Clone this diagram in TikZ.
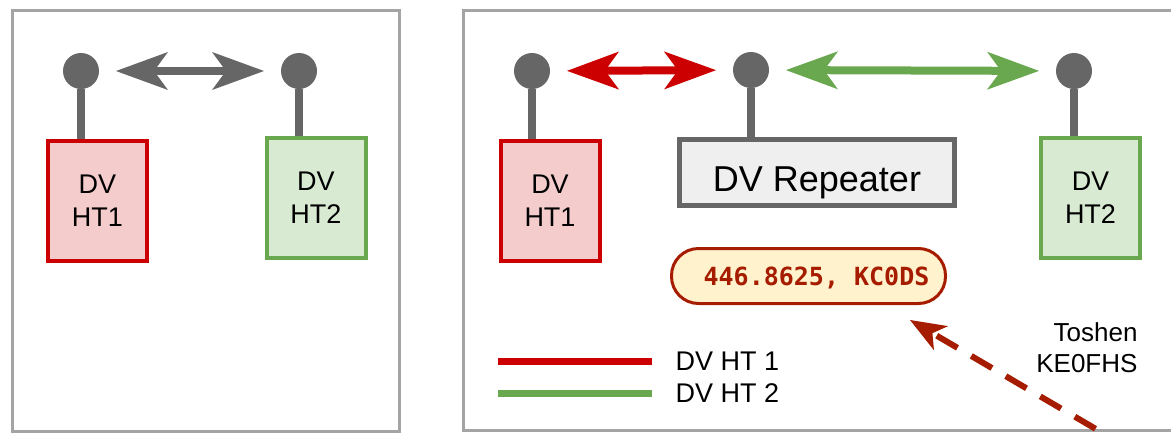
\documentclass[tikz,border=0pt]{standalone}
\usepackage{fontspec}
\setmainfont{Liberation Sans}
\setmonofont{DejaVu Sans Mono}
\usepackage{tikz}
\usetikzlibrary{positioning,
                arrows.meta}                % arrow tips

\definecolor{htred}{HTML}{CC0000}
\definecolor{htpink}{HTML}{F4CCCC}
\definecolor{htgreen}{HTML}{6AA84F}
\definecolor{htmint}{HTML}{D9EAD3}
\definecolor{antgray}{HTML}{666666}
\definecolor{rptfill}{HTML}{EFEFEF}
\definecolor{framegray}{HTML}{A4A4A4}
\definecolor{callred}{HTML}{A61C00}
\definecolor{callfill}{HTML}{FFF2CC}

\tikzset{
  panel/.style={draw=framegray, line width=3pt},
  ball/.style={circle, fill=antgray, minimum size=36pt, inner sep=0pt, outer sep=0pt},
  stem/.style={draw=antgray, line width=8pt},
  radio/.style={draw=#1, line width=4pt, minimum width=99pt, minimum height=120pt,
                inner sep=0pt, align=center, font=\fontsize{27}{33}\selectfont},
  link/.style={draw=#1, line width=8pt, shorten <=17pt, shorten >=17pt,
               >={Stealth[length=52pt, width=38pt, inset=14pt, line width=0pt]}, <->},
  legtext/.style={anchor=west, font=\fontsize{27}{32}\selectfont},
  legline/.style={draw=#1, line width=7pt},
  pointer/.style={draw=callred, line width=6pt, dash pattern=on 24pt off 16pt,
                  -{Stealth[length=36pt, width=28pt, inset=10pt, line width=0pt]}},
}

\begin{document}
\begin{tikzpicture}[x=1pt, y=-1pt]
  \clip (0,0) rectangle (1171,432);

  % simplex: two radios talking directly
  \draw[panel] (12,10) rectangle (399,431);
  \node[ball] (la) at (81,71) {};
  \node[ball] (lb) at (299,71) {};
  \node[radio=htred, fill=htpink] (lht1) at (97.5,201) {DV\\HT1};
  \node[radio=htgreen, fill=htmint] (lht2) at (316,198) {DV\\HT2};
  \draw[stem] (la) -- (la |- lht1.north);
  \draw[stem] (lb) -- (lb |- lht2.north);
  \draw[link=antgray] (la) -- (lb);

  % through the repeater
  \draw[panel] (463,10) rectangle (1190,430);
  \node[ball] (ra) at (532,71) {};
  \node[ball] (rr) at (751,70) {};
  \node[ball] (rb) at (1074,71) {};
  \node[radio=htred, fill=htpink] (rht1) at (550,201) {DV\\HT1};
  \node[radio=htgreen, fill=htmint] (rht2) at (1090.5,198) {DV\\HT2};
  \node[draw=antgray, fill=rptfill, line width=5pt, minimum width=275pt, minimum height=66pt,
        text height=38pt, text depth=0pt, font=\fontsize{36}{40}\selectfont]
        (rpt) at (817,172.5) {DV Repeater};
  \draw[stem] (ra) -- (ra |- rht1.north);
  \draw[stem] (rr) -- (rr |- rpt.north);
  \draw[stem] (rb) -- (rb |- rht2.north);
  \draw[link=htred] (ra) -- (rr);
  \draw[link=htgreen] (rr) -- (rb);

  \node[draw=callred, fill=callfill, line width=3pt, rounded corners=27pt,
        minimum width=274pt, minimum height=55pt, text=callred,
        text height=18pt, text depth=0pt, font=\ttfamily\bfseries\fontsize{25}{30}\selectfont]
        (freq) at (808.5,276) {\hspace{16pt}446.8625, KC0DS};
  \coordinate (ptail) at (1130,449);
  \draw[pointer] (ptail) -- ([xshift=-37pt, yshift=-15pt]freq.south east);

  % legend
  \node[legtext] (leg1) at (672,361) {DV HT 1};
  \node[legtext] (leg2) at (672,393) {DV HT 2};
  \draw[legline=htred] ([xshift=-174pt]leg1.west) -- ([xshift=-20pt]leg1.west);
  \draw[legline=htgreen] ([xshift=-174pt]leg2.west) -- ([xshift=-20pt]leg2.west);

  \node[anchor=east, align=right, font=\fontsize{26}{31}\selectfont] (author) at (1141,347.5) {Toshen\\KE0FHS};
\end{tikzpicture}
\end{document}
